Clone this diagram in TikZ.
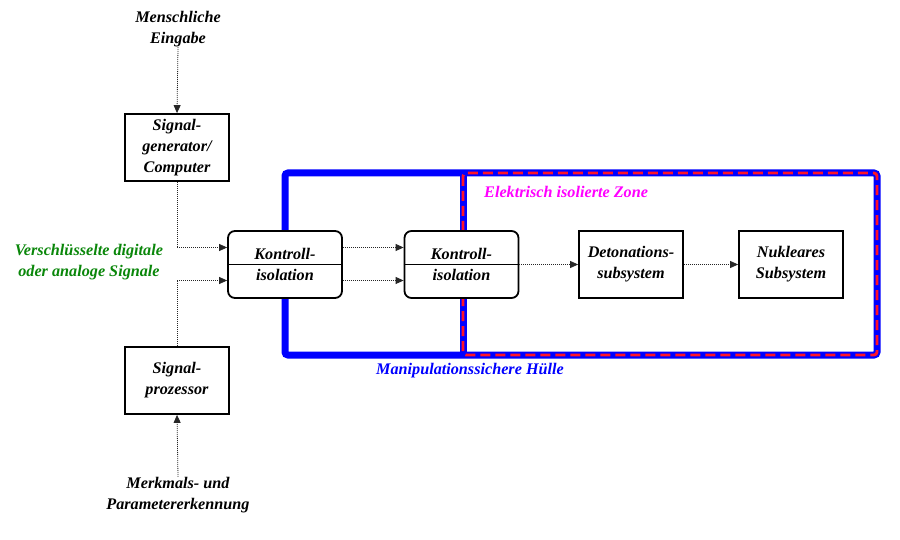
\documentclass[tikz,border=0pt]{standalone}
\usepackage{fontspec}
\setmainfont{Liberation Serif}
\usetikzlibrary{arrows.meta}
\definecolor{sigblue}{RGB}{0,0,255}
\definecolor{sigred}{RGB}{255,20,40}
\definecolor{siggreen}{RGB}{10,135,10}
\definecolor{sigmag}{RGB}{255,0,255}
\tikzset{
  lbl/.style={font=\fontsize{16.2}{21}\selectfont\bfseries\itshape, align=center, inner sep=0pt},
  sqbox/.style={lbl, draw=black, line width=1.8pt, fill=white, minimum width=104pt, minimum height=67pt},
  rdbox/.style={lbl, draw=black, line width=1.8pt, fill=white, rounded corners=7pt, minimum width=114pt, minimum height=67pt},
  arr/.style={draw=black!85, line width=0.8pt, dash pattern=on 1pt off 1pt, -{Triangle[length=8pt,width=7pt]}},
}
\begin{document}
\begin{tikzpicture}[x=1pt,y=-1pt]
\useasboundingbox[fill=white] (0,0) rectangle (900,540);
% enclosures
\draw[sigblue, line width=7pt, rounded corners=3pt] (285,173) rectangle (877,355);
\draw[sigblue, line width=7pt] (463,173) -- (463,355);
\draw[sigred, line width=2.8pt, dash pattern=on 10pt off 5pt, rounded corners=3pt] (463,173) rectangle (877,355);
% nodes
\node[lbl] (mensch) at (178,29) {Menschliche\\Eingabe};
\node[sqbox] (sg) at (177,147.5) {Signal-\\generator/\\Computer};
\node[sqbox] (sp) at (177,380.5) {Signal-\\prozessor};
\node[lbl] (merk) at (178,495) {Merkmals- und\\Parametererkennung};
\node[lbl, text=siggreen] (verschl) at (89,262) {Verschlüsselte digitale\\oder analoge Signale};
\node[rdbox] (k1) at (285,264.5) {Kontroll-\\isolation};
\node[rdbox] (k2) at (461.5,264.5) {Kontroll-\\isolation};
\node[sqbox] (det) at (631,264.5) {Detonations-\\subsystem};
\node[sqbox] (nuk) at (791,264.5) {Nukleares\\Subsystem};
\node[lbl, text=sigmag, anchor=west] (zone) at (484,192) {Elektrisch isolierte Zone};
\node[lbl, text=sigblue] (huelle) at (470,371) {Manipulationssichere Hülle};
% dividers
\draw[black, line width=1.5pt] (k1.west) -- (k1.east);
\draw[black, line width=1.5pt] (k2.west) -- (k2.east);
% connectors
\draw[arr] (mensch.south) -- (sg.north);
\draw[arr] (sg.south) |- ([yshift=17pt]k1.west);
\draw[arr] (sp.north) |- ([yshift=-16pt]k1.west);
\draw[arr] (merk.north) -- (sp.south);
\draw[arr] ([yshift=17pt]k1.east) -- ([yshift=17pt]k2.west);
\draw[arr] ([yshift=-16pt]k1.east) -- ([yshift=-16pt]k2.west);
\draw[arr] (k2.east) -- (det.west);
\draw[arr] (det.east) -- (nuk.west);
\end{tikzpicture}
\end{document}
